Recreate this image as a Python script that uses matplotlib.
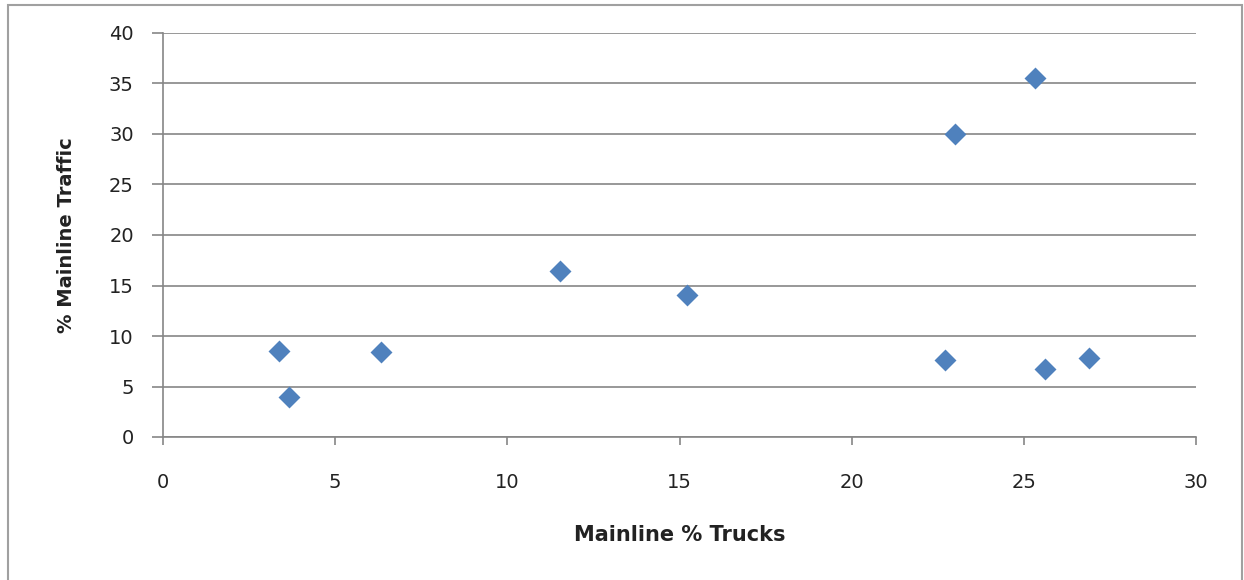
import matplotlib.pyplot as plt
from matplotlib.patches import Rectangle

# Data
pct_trucks = [3.37, 3.66, 6.33, 11.53, 15.22, 22.71, 23.0, 25.33, 25.62, 26.9]
pct_traffic = [8.5, 4.0, 8.4, 16.4, 14.1, 7.6, 30.0, 35.5, 6.7, 7.8]

x_ticks = [0, 5, 10, 15, 20, 25, 30]
y_ticks = [0, 5, 10, 15, 20, 25, 30, 35, 40]

grid_col = "#868686"
marker_col = "#4F81BD"
text_col = "#222222"

fig = plt.figure(figsize=(12.44, 5.8), dpi=100)
ax = fig.add_axes([163 / 1244, 1 - 437 / 580, (1196 - 163) / 1244, (437 - 33) / 580])

# Outer chart border
fig.patches.append(
    Rectangle((8 / 1244, -0.01), (1242 - 8) / 1244, 1 - 5 / 580 + 0.01,
              transform=fig.transFigure, fill=False, edgecolor="#A0A0A0",
              linewidth=1.5)
)

ax.scatter(pct_trucks, pct_traffic, marker="D", s=125, color=marker_col,
           linewidths=0, zorder=3)

ax.set_xlim(0, 30)
ax.set_ylim(0, 40)
ax.set_xticks(x_ticks)
ax.set_yticks(y_ticks)
ax.set_xticklabels([str(t) for t in x_ticks])
ax.set_yticklabels([str(t) for t in y_ticks])

ax.grid(axis="y", color=grid_col, linewidth=1.2)
ax.set_axisbelow(True)
for side in ["top", "right"]:
    ax.spines[side].set_visible(False)
for side in ["left", "bottom"]:
    ax.spines[side].set_color(grid_col)
    ax.spines[side].set_linewidth(1.2)

ax.tick_params(axis="y", length=8, width=1.2, color=grid_col, labelsize=14, pad=13,
               labelcolor=text_col)
ax.tick_params(axis="x", length=6, width=1.2, color=grid_col, labelsize=14, pad=20,
               labelcolor=text_col)

ax.set_xlabel("Mainline % Trucks", fontsize=15, fontweight="bold", labelpad=24,
              color=text_col)
ax.set_ylabel("% Mainline Traffic", fontsize=14, fontweight="bold", labelpad=24,
              color=text_col)

fig.savefig("out.png", dpi=100)
